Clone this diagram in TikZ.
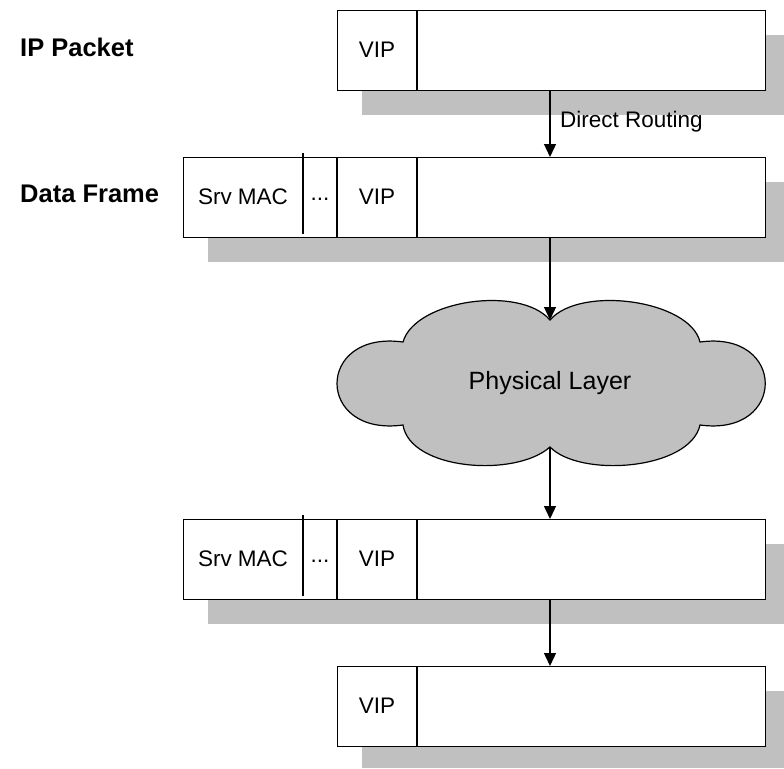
\documentclass[tikz,border=0pt]{standalone}
\usepackage{fontspec}
\setmainfont{Liberation Sans}
\usetikzlibrary{arrows.meta}
\definecolor{shadowgray}{RGB}{192,192,192}
\begin{document}
\begin{tikzpicture}[x=1pt,y=-1pt,
  frame/.style={draw=black, line width=1.3pt, fill=white, rectangle, inner sep=0pt,
                anchor=north west, minimum height=80pt},
  field/.style={font=\fontsize{22.5}{27}\selectfont, inner sep=0pt},
  rowlabel/.style={font=\bfseries\fontsize{25.5}{30}\selectfont, anchor=west, inner sep=0pt},
  flow/.style={line width=1.3pt, -{Triangle[length=13pt,width=12pt]}},
  sep/.style={line width=1.3pt}]
\useasboundingbox (0,0) rectangle (784,768);

% drop shadows behind the frames
\fill[shadowgray] (362,35) rectangle (784,115);
\fill[shadowgray] (208,182) rectangle (784,262);
\fill[shadowgray] (208,544) rectangle (784,624);
\fill[shadowgray] (362,691) rectangle (784,768);

% row captions
\node[rowlabel] (lblip) at (20,47) {IP Packet};
\node[rowlabel] (lbldf) at (20,194) {Data Frame};

% IP packet
\node[frame, minimum width=428pt] (ip) at (337,10) {};
\draw[sep] (417,10) -- (417,90);
\node[field] (ipvip) at (377,50) {VIP};

% data frame (sender)
\node[frame, minimum width=582pt] (df) at (183,157) {};
\draw[sep] (303,153) -- (303,234);
\draw[sep] (337,157) -- (337,237);
\draw[sep] (417,157) -- (417,237);
\node[field] (dfmac) at (243,197) {Srv MAC};
\node[field] (dfdots) at (320,199) {...};
\node[field] (dfvip) at (377,197) {VIP};

% physical layer cloud
\draw[line width=1.2pt, fill=shadowgray]
  (403,342) .. controls (415,300) and (520,285) .. (550,320)
  .. controls (580,285) and (690,300) .. (700,342)
  .. controls (787,330) and (787,437) .. (700,425)
  .. controls (690,470) and (580,478) .. (550,447)
  .. controls (515,478) and (410,470) .. (403,425)
  .. controls (315,437) and (315,330) .. (403,342) -- cycle;
\coordinate (cloudtop) at (550,320);
\coordinate (cloudbot) at (550,447);
\node[field, font=\fontsize{25}{30}\selectfont] (phy) at (550,383) {Physical Layer};

% data frame (receiver)
\node[frame, minimum width=582pt] (rf) at (183,519) {};
\draw[sep] (303,515) -- (303,596);
\draw[sep] (337,519) -- (337,599);
\draw[sep] (417,519) -- (417,599);
\node[field] (rfmac) at (243,559) {Srv MAC};
\node[field] (rfdots) at (320,561) {...};
\node[field] (rfvip) at (377,559) {VIP};

% IP packet (received)
\node[frame, minimum width=428pt] (rp) at (337,666) {};
\draw[sep] (417,666) -- (417,746);
\node[field] (rpvip) at (377,706) {VIP};

% flow arrows
\draw[flow] (ip.south -| cloudtop) -- (df.north -| cloudtop);
\node[field, anchor=west] (routing) at (560,122) {Direct Routing};
\draw[flow] (df.south -| cloudtop) -- (cloudtop);
\draw[flow] (cloudbot) -- (rf.north -| cloudbot);
\draw[flow] (rf.south -| cloudbot) -- (rp.north -| cloudbot);
\end{tikzpicture}
\end{document}
